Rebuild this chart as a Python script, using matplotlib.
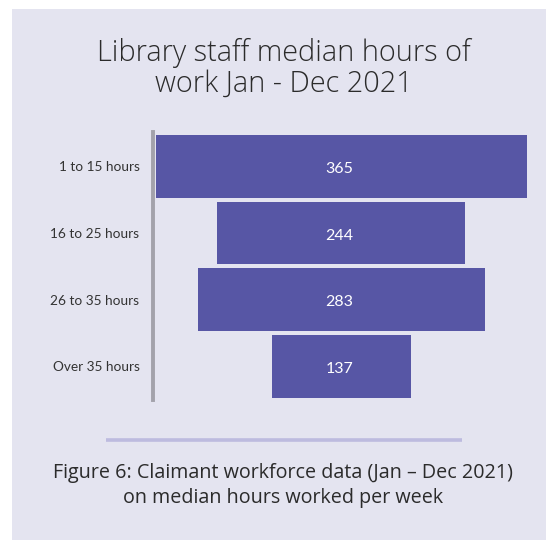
import matplotlib

matplotlib.use("Agg")
import matplotlib.pyplot as plt
from matplotlib.lines import Line2D
from matplotlib.patches import Rectangle

# Claimant workforce data, Jan - Dec 2021
categories = ["1 to 15 hours", "16 to 25 hours", "26 to 35 hours", "Over 35 hours"]
staff_counts = [365, 244, 283, 137]

title_lines = ["Library staff median hours of", "work Jan - Dec 2021"]
caption_lines = [
    "Figure 6: Claimant workforce data (Jan \u2013 Dec 2021)",
    "on median hours worked per week",
]

W, H = 546, 540
PANEL = "#e4e4f0"
BAR = "#5756a5"
TEXT = "#2b2b2b"
HEAD_FONT = ["Open Sans", "DejaVu Sans"]

plt.rcParams["font.family"] = ["Lato", "DejaVu Sans"]

fig = plt.figure(figsize=(W / 100, H / 100), dpi=100)
fig.patch.set_facecolor("white")


def px(x, y_top):
    """Pixel position (from top-left) to figure fraction."""
    return x / W, 1 - y_top / H


# lavender card behind everything
fig.add_artist(
    Rectangle(px(12, H), (W - 12) / W, (H - 9) / H,
              transform=fig.transFigure, facecolor=PANEL, edgecolor="none", zorder=0)
)

# funnel axes
left, right = 153.3, 529.3
top, bottom = 131.7, 400
ax = fig.add_axes([left / W, 1 - bottom / H, (right - left) / W, (bottom - top) / H])
ax.set_facecolor("none")

half = 185
ax.set_xlim(-half, half)
ax.set_ylim(3.504, -0.517)

ypos = range(len(categories))
ax.barh(ypos, staff_counts, left=[-v / 2 for v in staff_counts],
        height=0.94, color=BAR, zorder=2)

for y, v in zip(ypos, staff_counts):
    ax.text(-2, y + 0.04, str(v), ha="center", va="center",
            color="white", fontsize=11.5, zorder=3)

ax.set_yticks(list(ypos))
ax.set_yticklabels(categories, fontsize=9.8, color="#333333")
ax.tick_params(axis="y", length=0, pad=10)
ax.set_xticks([])

for side in ["top", "right", "bottom"]:
    ax.spines[side].set_visible(False)
ax.spines["left"].set_color("#a3a2ab")
ax.spines["left"].set_linewidth(2.8)

# title
for text, base in zip(title_lines, [60.7, 91.7]):
    fig.text(*px(283.5, base), text, ha="center", va="baseline",
             fontsize=20.8, color=TEXT, family=HEAD_FONT, fontweight="light")

# divider above the caption
x0, y0 = px(105.5, 439.5)
x1, _ = px(462, 439.5)
fig.add_artist(Line2D([x0, x1], [y0, y0], transform=fig.transFigure,
                      color="#bdbbdf", linewidth=2.6, solid_capstyle="butt"))

# caption
for text, base in zip(caption_lines, [478.3, 503.3]):
    fig.text(*px(283, base), text, ha="center", va="baseline",
             fontsize=14.2, color=TEXT, family=HEAD_FONT)

fig.savefig("out.png", dpi=100, facecolor=fig.get_facecolor())
